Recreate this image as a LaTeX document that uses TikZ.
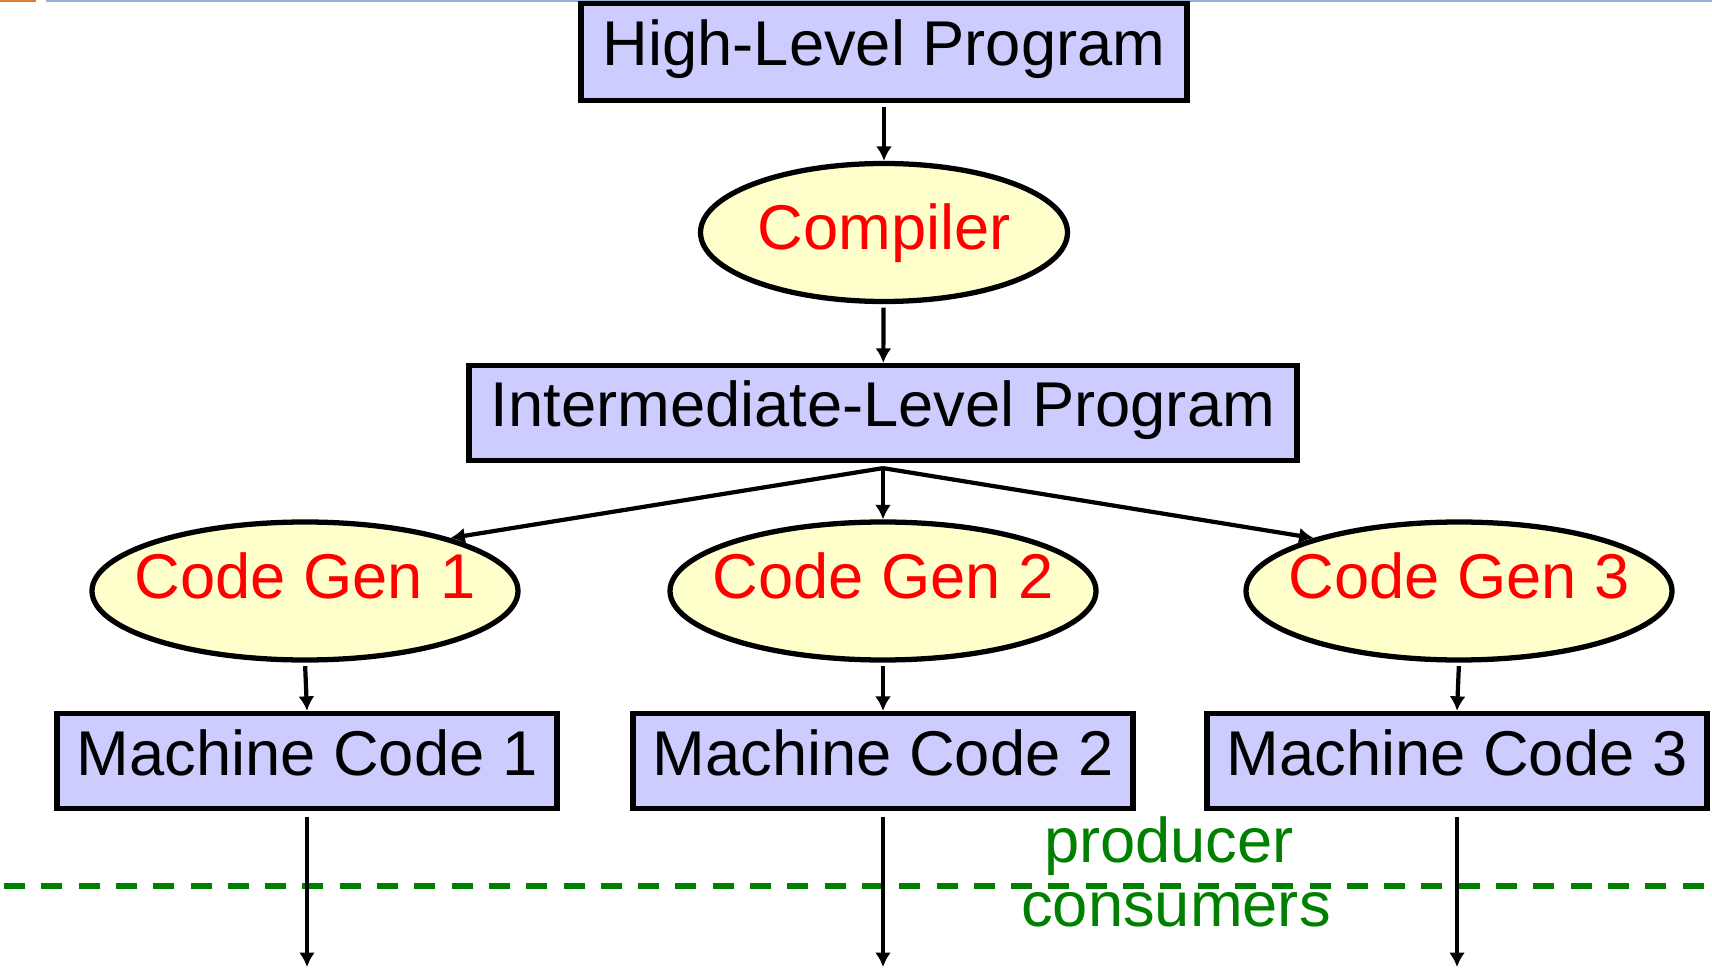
\documentclass[tikz,border=0pt]{standalone}
\usepackage{fontspec}
\setmainfont{Liberation Sans}
\usetikzlibrary{shapes.geometric,arrows.meta}
\definecolor{progblue}{HTML}{CCCCFF}
\definecolor{genyellow}{HTML}{FFFFCC}
\definecolor{splitgreen}{HTML}{008000}
\definecolor{slideorange}{HTML}{E87A2E}
\definecolor{slideblue}{HTML}{95B3D7}
\tikzset{
  >={Latex[length=2.9mm,width=3.2mm]},
  prog/.style={draw,line width=3pt,fill=progblue,inner sep=0pt,minimum height=1.9cm,
    text height=0.91cm,text depth=0.35cm},
  gen/.style={ellipse,draw,line width=3pt,fill=genyellow,text=red,inner ysep=0pt,inner xsep=-0.4cm,
    minimum width=8.52cm,minimum height=2.76cm,text height=0.91cm,text depth=0.63cm},
  flow/.style={->,line width=2.4pt},
}
\tikzstyle{every node}=[font=\fontsize{36}{43}\selectfont]

\begin{document}
\begin{tikzpicture}
    \useasboundingbox (0,0) rectangle (34.24,-19.44);
    % slide rule at the top
    \draw[slideorange,line width=1.2pt](0,-0.02)--(0.72,-0.02);
    \draw[slideblue,line width=1.2pt](0.92,-0.02)--(34.24,-0.02);
    \node[prog,minimum width=12.12cm,minimum height=1.94cm] (hlp) at (17.68,-1.04) {High-Level Program};
    \node[gen,minimum width=7.34cm,text depth=0.21cm] (comp) at (17.68,-4.65) {Compiler};
    \node[prog,minimum width=16.56cm] (ilp) at (17.66,-8.26) {Intermediate-Level Program};
    \node[gen] (cg1) at (6.1,-11.82) {Code Gen 1};
    \node[gen] (cg2) at (17.66,-11.82) {Code Gen 2};
    \node[gen] (cg3) at (29.18,-11.82) {Code Gen 3};
    \node[prog,minimum width=10.0cm] (mc1) at (6.14,-15.22) {Machine Code 1};
    \node[prog,minimum width=10.0cm] (mc2) at (17.66,-15.22) {Machine Code 2};
    \node[prog,minimum width=10.0cm] (mc3) at (29.14,-15.22) {Machine Code 3};
    \coordinate (fork) at ([yshift=-0.1cm]ilp.south);
    \coordinate (out1) at (6.14,-19.34);
    \coordinate (out2) at (17.66,-19.34);
    \coordinate (out3) at (29.14,-19.34);
    \coordinate (dl) at (0.08,-17.72);
    \coordinate (dr) at (34.24,-17.72);
    \draw[flow,shorten <=2pt](hlp)--(comp);
    \draw[flow,shorten <=2pt](comp)--(ilp);
    \draw[flow](fork)--(cg1.20);
    \draw[flow](fork)--(cg2);
    \draw[flow](fork)--(cg3.160);
    \foreach \i in {1,2,3}{
      \draw[flow,shorten <=2pt](cg\i.south)--(mc\i.north);
    }
    \draw[splitgreen,line width=3pt,dash pattern=on 0.42cm off 0.326cm](dl)--(dr);
    \foreach \i in {1,2,3}{
      \draw[flow,shorten <=0.12cm](mc\i.south)--(out\i);
    }
    \node[text=splitgreen,anchor=base] (prod) at (23.38,-17.24) {producer};
    \node[text=splitgreen,anchor=base] (cons) at (23.52,-18.52) {consumers};
\end{tikzpicture}
\end{document}
